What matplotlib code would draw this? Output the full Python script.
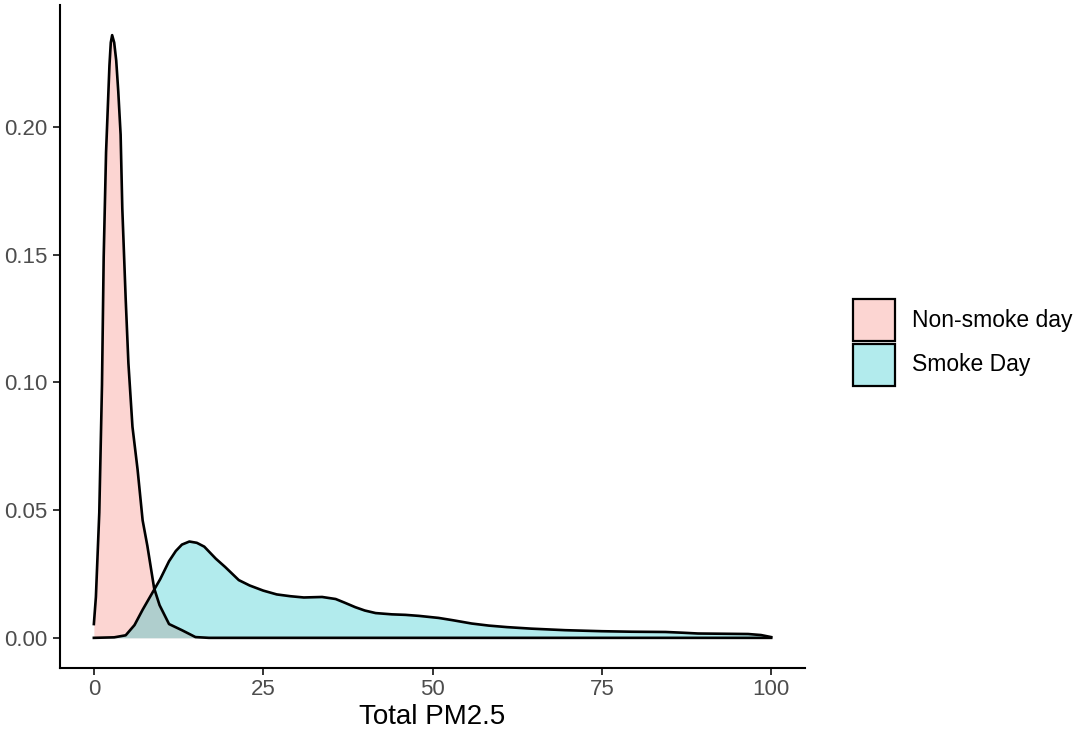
import matplotlib
matplotlib.use("Agg")
import matplotlib.pyplot as plt
from matplotlib.patches import Rectangle

plt.rcParams['font.family'] = ['Liberation Sans', 'DejaVu Sans']

# density curves (x = Total PM2.5, y = density)
non_smoke_x = [0, 0.3, 0.8, 1.2, 1.45, 1.8, 2.3, 2.5, 2.7, 3.0, 3.3, 3.6, 3.95, 4.2,
               4.7, 5.1, 5.7, 6.45, 7.2, 7.9, 8.9, 9.7, 11.1, 13.0, 15.0, 17.0, 100]
non_smoke_y = [0.0054, 0.016, 0.049, 0.099, 0.149, 0.19, 0.224, 0.233, 0.2359, 0.233,
               0.226, 0.214, 0.197, 0.168, 0.1325, 0.1075, 0.0826, 0.066, 0.046,
               0.036, 0.0194, 0.0128, 0.0054, 0.003, 0.0003, 0.0, 0.0]

smoke_x = [0, 3, 4.7, 6, 7.2, 8.5, 9.8, 11.1, 12.1, 13.0, 14.1, 15.2, 16.3, 18,
           19.4, 21.4, 23, 25, 27, 29, 31, 33.7, 35.7, 37, 38.6, 40, 41.6, 44,
           46, 48, 50.9, 53, 55.8, 58.3, 61, 64.6, 69.6, 75, 79.4, 84.4, 87,
           89.2, 93, 96.6, 98.5, 100]
smoke_y = [0.0, 0.0002, 0.001, 0.005, 0.011, 0.017, 0.023, 0.0300, 0.034, 0.0365,
           0.0377, 0.0372, 0.0357, 0.031, 0.0277, 0.0226, 0.0205, 0.0185, 0.017,
           0.0163, 0.0158, 0.016, 0.0152, 0.0138, 0.012, 0.0107, 0.0097, 0.0092,
           0.009, 0.0086, 0.0078, 0.0069, 0.0056, 0.0048, 0.0042, 0.0036, 0.003,
           0.0026, 0.0024, 0.0023, 0.002, 0.0017, 0.0016, 0.0015, 0.0011, 0.0003]

labels = ["Non-smoke day", "Smoke Day"]
colors = ["#F8766D", "#00BFC4"]

W, H = 1073, 738
fig = plt.figure(figsize=(W / 100, H / 100), dpi=100)
ax = fig.add_axes([60 / W, 70 / H, 745 / W, 663 / H])

for xs, ys, c in [(non_smoke_x, non_smoke_y, colors[0]), (smoke_x, smoke_y, colors[1])]:
    ax.fill_between(xs, ys, 0, color=c, alpha=0.3, lw=0)
    ax.plot(xs, ys, color="black", lw=1.9, solid_joinstyle="round")

ax.set_xlim(-5, 105)
ax.set_ylim(-0.0118, 0.2477)
ax.set_xticks([0, 25, 50, 75, 100])
ax.set_yticks([0, 0.05, 0.10, 0.15, 0.20])
ax.set_yticklabels(["0.00", "0.05", "0.10", "0.15", "0.20"])

for s in ["top", "right"]:
    ax.spines[s].set_visible(False)
for s in ["left", "bottom"]:
    ax.spines[s].set_linewidth(1.5)
ax.tick_params(direction="out", length=5, width=1.4, color="#333333",
               labelcolor="#4D4D4D", labelsize=16)
ax.tick_params(axis="x", pad=3)
ax.tick_params(axis="y", pad=4)
ax.set_xlabel("Total PM2.5", fontsize=20, labelpad=3)

# legend drawn by hand to the right of the panel
tr = fig.transFigure
for i, (lab, c) in enumerate(zip(labels, colors)):
    top = 299 + i * 45
    fig.add_artist(Rectangle((853 / W, 1 - (top + 42) / H), 42 / W, 42 / H,
                             transform=tr, facecolor=c, alpha=0.3, lw=0))
    fig.add_artist(Rectangle((853 / W, 1 - (top + 42) / H), 42 / W, 42 / H,
                             transform=tr, facecolor="none", edgecolor="black", lw=1.6))
    fig.text(912 / W, 1 - (top + 21) / H, lab, fontsize=16.5, va="center", ha="left")

fig.savefig("out.png", dpi=100)
